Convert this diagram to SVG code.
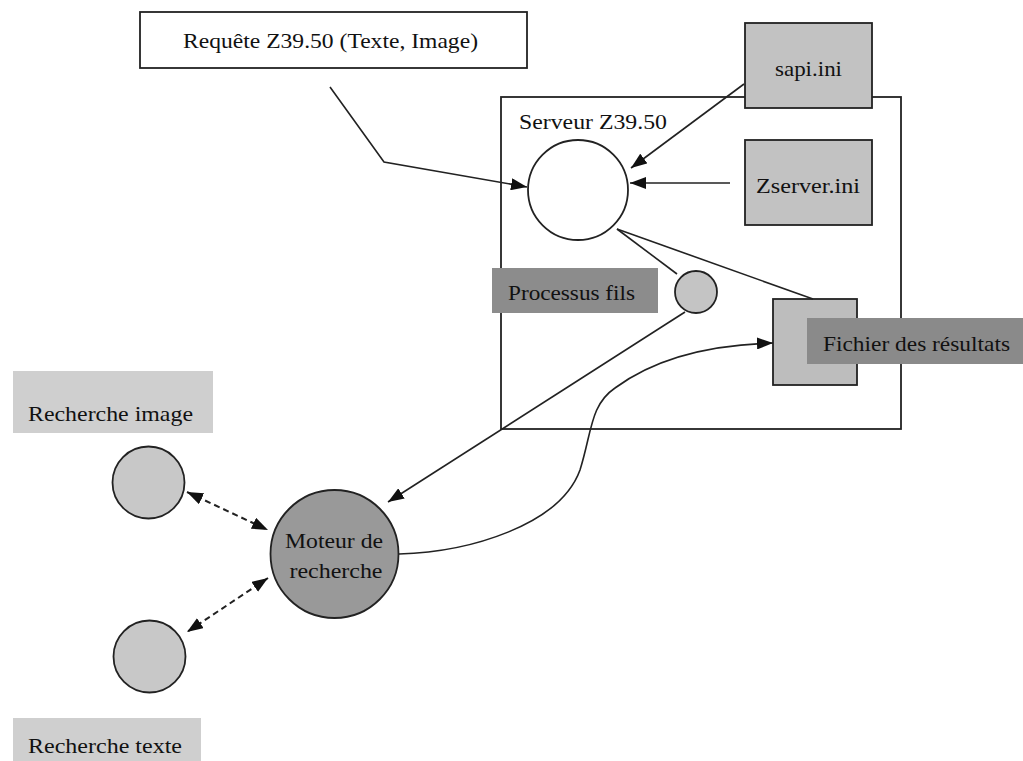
<svg xmlns="http://www.w3.org/2000/svg" width="1023" height="761" viewBox="0 0 1023 761">
  <style>
    .t { font-family: "Liberation Serif", "Times New Roman", serif; font-size: 21px; fill: #111; }
    .box { stroke: #222; stroke-width: 1.8; }
    .edge { fill: none; stroke: #222; stroke-width: 1.6; }
    .dash { fill: none; stroke: #222; stroke-width: 2; stroke-dasharray: 6 4; }
  </style>
  <defs>
    <marker id="arrow" viewBox="0 0 16 12" refX="16" refY="6" markerWidth="16" markerHeight="12" markerUnits="userSpaceOnUse" orient="auto-start-reverse">
      <path d="M0,0 L16,6 L0,12 Z" fill="#111"/>
    </marker>
  </defs>
  <rect width="1023" height="761" fill="#ffffff"/>

  <!-- server container -->
  <g id="serveur">
    <rect x="501" y="97" width="400" height="332" fill="none" class="box"/>
    <text class="t" x="519" y="129" textLength="148" lengthAdjust="spacingAndGlyphs">Serveur Z39.50</text>
  </g>

  <!-- request label -->
  <g id="requete">
    <rect x="140" y="12" width="387" height="56" fill="#ffffff" class="box" stroke-width="2.2"/>
    <text class="t" x="183" y="48" font-size="22" textLength="295" lengthAdjust="spacingAndGlyphs">Requête Z39.50 (Texte, Image)</text>
  </g>

  <!-- config files -->
  <g id="sapi">
    <rect x="745" y="23" width="127" height="85" fill="#c2c2c2" class="box"/>
    <text class="t" x="775" y="76" textLength="67" lengthAdjust="spacingAndGlyphs">sapi.ini</text>
  </g>
  <g id="zserver">
    <rect x="745" y="140" width="127" height="85" fill="#c2c2c2" class="box"/>
    <text class="t" x="756" y="193" textLength="104" lengthAdjust="spacingAndGlyphs">Zserver.ini</text>
  </g>

  <!-- main server process -->
  <g id="processus-serveur">
    <circle cx="578" cy="190" r="50" fill="#ffffff" class="box"/>
  </g>

  <!-- child process -->
  <g id="processus-fils">
    <rect x="492" y="268" width="166" height="45" fill="#8c8c8c"/>
    <text class="t" x="508" y="300" textLength="127" lengthAdjust="spacingAndGlyphs">Processus fils</text>
    <circle cx="696" cy="292" r="21" fill="#c4c4c4" class="box"/>
  </g>

  <!-- results file -->
  <g id="fichier">
    <rect x="773" y="299" width="84" height="86" fill="#bdbdbd" class="box"/>
    <rect x="807" y="318" width="216" height="46" fill="#8a8a8a"/>
    <text class="t" x="823" y="351" textLength="187" lengthAdjust="spacingAndGlyphs">Fichier des résultats</text>
  </g>

  <!-- search engine -->
  <g id="moteur">
    <circle cx="334.5" cy="554" r="64" fill="#999999" class="box"/>
    <text class="t" x="334" y="548" text-anchor="middle" textLength="98" lengthAdjust="spacingAndGlyphs">Moteur de</text>
    <text class="t" x="336" y="578" text-anchor="middle" textLength="93" lengthAdjust="spacingAndGlyphs">recherche</text>
  </g>

  <!-- image search -->
  <g id="recherche-image">
    <rect x="13" y="371" width="200" height="62" fill="#cfcfcf"/>
    <text class="t" x="28" y="421" textLength="165" lengthAdjust="spacingAndGlyphs">Recherche image</text>
    <circle cx="148.5" cy="482.5" r="36" fill="#c8c8c8" class="box"/>
  </g>

  <!-- text search -->
  <g id="recherche-texte">
    <circle cx="149.5" cy="656.5" r="36" fill="#c8c8c8" class="box"/>
    <rect x="13" y="718" width="188" height="43" fill="#cfcfcf"/>
    <text class="t" x="28" y="753" textLength="154" lengthAdjust="spacingAndGlyphs">Recherche texte</text>
  </g>

  <!-- connectors -->
  <g id="connecteurs">
    <polyline class="edge" points="330,87 384,162 527,187" marker-end="url(#arrow)"/>
    <line class="edge" x1="744" y1="84" x2="631" y2="168" marker-end="url(#arrow)"/>
    <line class="edge" x1="730" y1="183" x2="630" y2="183" marker-end="url(#arrow)"/>
    <line class="edge" x1="617" y1="229" x2="677" y2="274"/>
    <line class="edge" x1="617" y1="229" x2="813" y2="299"/>
    <line class="edge" x1="685" y1="312" x2="388" y2="502" marker-end="url(#arrow)"/>
    <path class="edge" d="M399,554 C470,552 560,525 580,470 C592,432 590,405 615,388 C650,362 700,345 773,343" marker-end="url(#arrow)"/>
    <line class="dash" x1="187" y1="492" x2="268" y2="530" marker-start="url(#arrow)" marker-end="url(#arrow)"/>
    <line class="dash" x1="268" y1="578" x2="187" y2="632" marker-start="url(#arrow)" marker-end="url(#arrow)"/>
  </g>
</svg>
